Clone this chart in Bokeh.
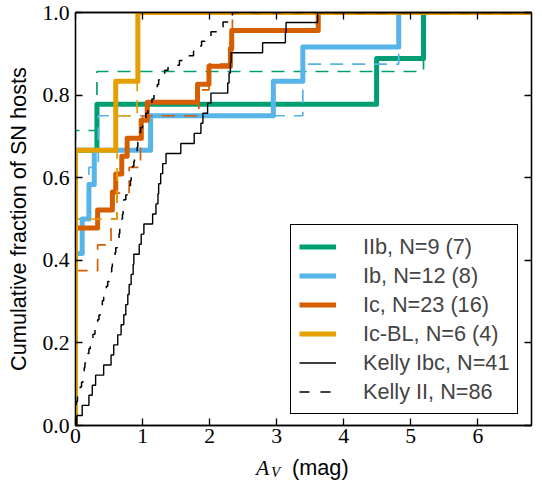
import numpy as np
from bokeh.plotting import figure
from bokeh.layouts import column
from bokeh.models import (Range1d, LinearAxis, Legend, LegendItem, Div,
                          FixedTicker, NumeralTickFormatter)
from bokeh.embed import file_html
from bokeh.resources import INLINE

# ---------------- data (A_V values) ----------------
X_MAX = 6.8
X_TICKS = [0, 1, 2, 3, 4, 5, 6]
Y_TICKS = [0.0, 0.2, 0.4, 0.6, 0.8, 1.0]

IIB_LABEL = "IIb, N=9 (7)"
IIB_AV = [0.0, 0.0, 0.0, 0.0, 0.0, 0.0, 0.32, 4.49, 5.19]
IIB_SUB_AV = [0.0, 0.0, 0.0, 0.0, 0.0, 0.32, 5.19]

IB_LABEL = "Ib, N=12 (8)"
IB_AV = [0.0, 0.0, 0.0, 0.0, 0.0, 0.1, 0.2, 0.28, 1.12, 2.95, 3.39, 4.82]
IB_SUB_AV = [0.0, 0.0, 0.0, 0.0, 0.2, 0.34, 3.39, 4.82]

IC_LABEL = "Ic, N=23 (16)"
IC_AV = [0.0] * 11 + [0.33, 0.55, 0.6, 0.69, 0.77, 0.98, 1.07, 1.82, 1.99,
                      2.31, 2.33, 3.62]
IC_SUB_AV = [0.0] * 6 + [0.33, 0.53, 0.62, 0.8, 0.97, 1.0, 1.84, 1.99, 2.31,
                         2.34]

ICBL_LABEL = "Ic-BL, N=6 (4)"
ICBL_AV = [0.0, 0.0, 0.0, 0.0, 0.6, 0.93]
ICBL_SUB_AV = [0.0, 0.0, 0.62, 0.92]

KELLY_IBC_LABEL = "Kelly Ibc, N=41"
KELLY_IBC_AV = [0.02, 0.1, 0.2, 0.25, 0.3, 0.42, 0.53, 0.57, 0.63, 0.68,
                0.72, 0.75, 0.78, 0.8, 0.83, 0.86, 0.87, 0.95, 0.98, 1.02,
                1.15, 1.2, 1.23, 1.24, 1.27, 1.3, 1.35, 1.57, 1.77, 1.87,
                1.9, 1.97, 2.02, 2.27, 2.29, 2.31, 2.32, 2.79, 3.13, 3.14,
                3.61]

KELLY_II_LABEL = "Kelly II, N=86"
KELLY_II_AV = [0.01, 0.01, 0.01, 0.01, 0.01,
               0.03, 0.05, 0.07, 0.09,
               0.11, 0.12, 0.13, 0.14, 0.15,
               0.18, 0.2, 0.22, 0.23,
               0.26, 0.29, 0.31, 0.33,
               0.35, 0.37, 0.38, 0.4,
               0.42, 0.44, 0.46, 0.48,
               0.5, 0.52, 0.54, 0.55, 0.57,
               0.59, 0.6, 0.62, 0.63,
               0.65, 0.66, 0.68,
               0.69, 0.7, 0.71, 0.715, 0.72,
               0.75, 0.77, 0.8,
               0.82, 0.83, 0.84, 0.85,
               0.87, 0.88, 0.9,
               0.92, 0.93, 0.95, 0.96, 0.97,
               1.0, 1.02, 1.05,
               1.08, 1.11, 1.14, 1.17,
               1.2, 1.22, 1.24,
               1.28, 1.33, 1.38,
               1.55,
               1.65, 1.76,
               1.82, 1.88, 1.93,
               2.02, 2.12,
               2.2, 2.3,
               2.34]

GREEN = "#009E73"
BLUE = "#56B4E9"
VERMILION = "#D55E00"
ORANGE = "#E69F00"

W = 542
H_MAIN = 455
H_XTITLE = 26


def cdf(vals):
    v = np.sort(np.asarray(vals, dtype=float))
    n = len(v)
    xs = np.concatenate([[0.0], v, [X_MAX]])
    ys = np.concatenate([[0.0], np.arange(1, n + 1) / n, [1.0]])
    return xs, ys


p = figure(width=W, height=H_MAIN, output_backend="svg", toolbar_location=None,
           x_range=Range1d(0, X_MAX), y_range=Range1d(0, 1), title=None,
           min_border_left=75, min_border_right=11, min_border_top=12,
           min_border_bottom=30)
p.xgrid.visible = False
p.ygrid.visible = False
p.outline_line_color = "black"
p.outline_line_width = 1.3
p.background_fill_color = "white"
p.border_fill_color = "white"

TICK_FONT = "Liberation Serif"
TICK_SIZE = "21.7px"


def style_axis(ax, ticks, show_labels):
    ax.ticker = FixedTicker(ticks=ticks)
    ax.major_tick_in = 7
    ax.major_tick_out = 0
    ax.minor_tick_line_color = None
    ax.axis_line_width = 1.3
    ax.axis_line_color = "black"
    ax.major_tick_line_width = 1.3
    ax.major_tick_line_color = "black"
    if show_labels:
        ax.major_label_text_font = TICK_FONT
        ax.major_label_text_font_size = TICK_SIZE
        ax.major_label_text_color = "black"
        ax.major_label_standoff = 6
    else:
        ax.major_label_overrides = {t: "" for t in ticks}
        ax.major_label_text_font_size = "1px"
        ax.major_label_standoff = 0


xax = p.xaxis[0]
style_axis(xax, X_TICKS, True)
xax.major_label_standoff = 3

yax = p.yaxis[0]
style_axis(yax, Y_TICKS, True)
yax.formatter = NumeralTickFormatter(format="0.0")
yax.axis_label = "Cumulative fraction of SN hosts"
yax.axis_label_text_font = "Liberation Sans"
yax.axis_label_text_font_style = "normal"
yax.axis_label_text_font_size = "21.7px"
yax.axis_label_text_color = "black"
yax.axis_label_standoff = 8

top = LinearAxis()
style_axis(top, X_TICKS, False)
p.add_layout(top, "above")
right = LinearAxis()
style_axis(right, Y_TICKS, False)
p.add_layout(right, "right")

SERIES = [
    (IIB_LABEL, IIB_AV, IIB_SUB_AV, GREEN),
    (IB_LABEL, IB_AV, IB_SUB_AV, BLUE),
    (IC_LABEL, IC_AV, IC_SUB_AV, VERMILION),
    (ICBL_LABEL, ICBL_AV, ICBL_SUB_AV, ORANGE),
]

items = []
for label, full, sub, color in SERIES:
    xs, ys = cdf(full)
    r = p.step(xs, ys, mode="after", line_color=color, line_width=5,
               line_join="round")
    xs2, ys2 = cdf(sub)
    p.step(xs2, ys2, mode="after", line_color=color, line_width=1.7,
           line_dash="13 9")
    items.append(LegendItem(label=label, renderers=[r]))

xs, ys = cdf(KELLY_IBC_AV)
r_ibc = p.step(xs, ys, mode="after", line_color="black", line_width=1.4)
items.append(LegendItem(label=KELLY_IBC_LABEL, renderers=[r_ibc]))

xs, ys = cdf(KELLY_II_AV)
r_ii = p.step(xs, ys, mode="after", line_color="black", line_width=1.5,
              line_dash="10 11")
items.append(LegendItem(label=KELLY_II_LABEL, renderers=[r_ii]))

legend = Legend(items=items, location=(215, 11), orientation="vertical",
                label_text_font="Liberation Sans", label_text_font_size="21.7px",
                label_height=27, glyph_height=27, glyph_width=37, spacing=2,
                padding=8, margin=0, label_standoff=27,
                border_line_color="black", border_line_width=1.3,
                border_line_alpha=1.0, background_fill_color="white",
                background_fill_alpha=1.0)
p.add_layout(legend)

# ---- x-axis title: italic A with subscript V, then "(mag)" ----
XTITLE_HTML = (
    '<div style="position:relative;width:542px;height:26px;color:black;">'
    '<span style="position:absolute;left:256px;top:0px;'
    "font-family:'Liberation Serif';font-style:italic;font-size:21.7px;"
    'line-height:26px;white-space:nowrap;">A</span>'
    '<span style="position:absolute;left:271px;top:10px;'
    "font-family:'Liberation Serif';font-style:italic;font-size:15px;"
    'line-height:15px;white-space:nowrap;">V</span>'
    '<span style="position:absolute;left:292px;top:0px;'
    "font-family:'Liberation Sans';font-size:21.7px;"
    'line-height:26px;white-space:nowrap;">(mag)</span>'
    '</div>'
)
xtitle = Div(text=XTITLE_HTML, width=W, height=H_XTITLE,
             styles={"margin": "0px", "padding": "0px"})

layout = column(p, xtitle, spacing=0)
open("out.html", "w").write(file_html(layout, INLINE))
